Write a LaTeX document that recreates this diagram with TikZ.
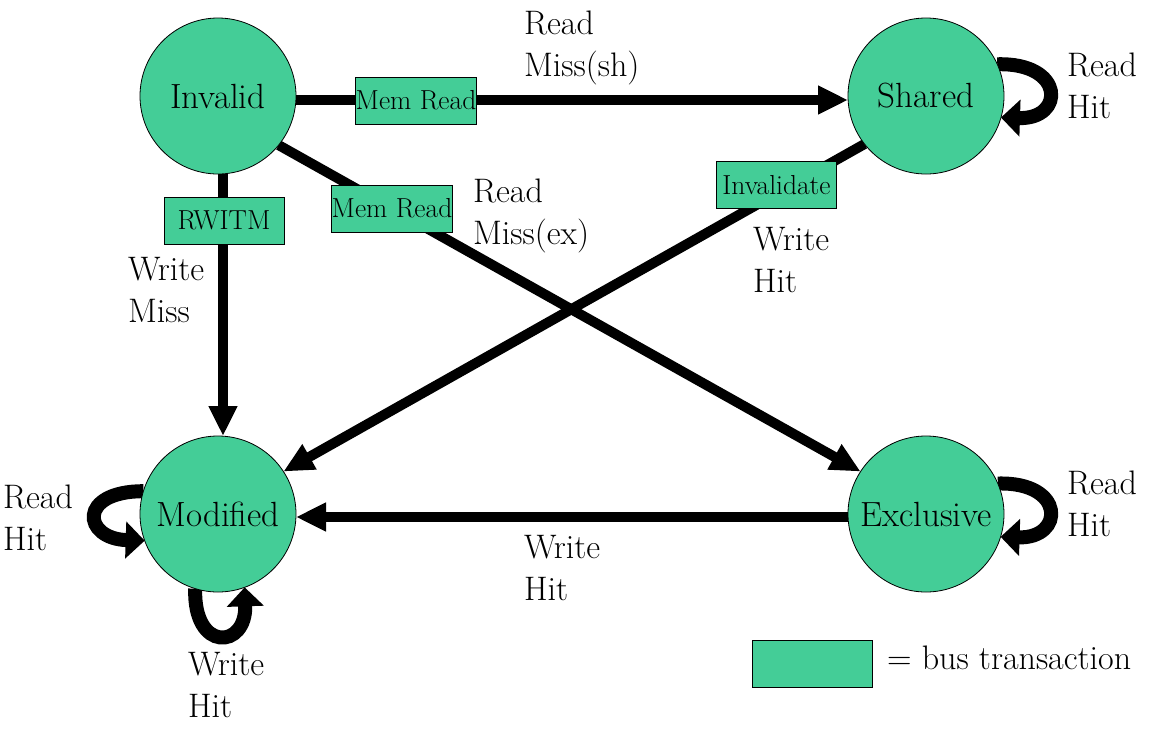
\documentclass[tikz,border=0pt]{standalone}
\usetikzlibrary{arrows.meta}
\definecolor{busgreen}{RGB}{68,205,151}
\pgfdeclarelayer{bg}
\pgfsetlayers{bg,main}
\begin{document}
\begin{tikzpicture}[x=1pt,y=-1pt,
  state/.style={circle,draw=black,line width=0.8pt,fill=busgreen,minimum size=156pt,inner sep=0pt,outer sep=0pt,font=\fontsize{35}{42}\selectfont},
  bus/.style={rectangle,draw=black,line width=0.8pt,fill=busgreen,minimum width=120pt,minimum height=47pt,inner sep=0pt,outer sep=0pt,font=\fontsize{27.5}{32}\selectfont},
  lbl/.style={anchor=base west,inner sep=0pt,outer sep=0pt,font=\fontsize{34}{42}\selectfont},
  trans/.style={line width=10pt,-{Triangle[length=30pt,width=27pt]}},
  selfloop/.style={line width=14pt,-{Triangle[length=19pt,width=36pt]}}]
\useasboundingbox (0,0) rectangle (1149,732);

% states
\node[state] (Invalid) at (218,96) {Invalid};
\node[state] (Shared) at (926,96) {Shared};
\node[state] (Modified) at (218,514) {Modified};
\node[state] (Exclusive) at (926,514) {Exclusive};

% connectors (behind)
\begin{pgfonlayer}{bg}
\draw[trans] ([yshift=-4pt]Invalid.east) -- ([yshift=-4pt]Shared.west);
\draw[trans] (Invalid.-39) -- (Exclusive.147);
\draw[trans] (Shared.218) -- (Modified.33);
\draw[trans] ([xshift=5pt]Invalid.south) -- ([xshift=5pt]Modified.north);
\draw[trans] ([yshift=-3pt]Exclusive.west) -- ([yshift=-3pt]Modified.east);
\draw[selfloop] (Shared.24) .. controls +(68,-2) and +(64,2) .. (Shared.-16);
\draw[selfloop] (Exclusive.23) .. controls +(68,-2) and +(64,2) .. (Exclusive.-17);
\draw[selfloop] (Modified.163) .. controls +(-66,0) and +(-62,-2) .. (Modified.200);
\draw[selfloop] (Modified.253) .. controls +(-2,64) and +(2,62) .. (Modified.290);
\end{pgfonlayer}

% bus transactions
\node[bus] (mr1) at (416,100.5) {Mem Read};
\node[bus] (rwitm) at (224,220.5) {RWITM};
\node[bus] (mr2) at (392,208.5) {Mem Read};
\node[bus] (inv) at (776.5,185) {Invalidate};
\node[bus] (legend) at (812.5,664) {};

% labels
\node[lbl] (lRMsh) at (524,34) {\begin{tabular}[t]{@{}l@{}}Read\\Miss(sh)\end{tabular}};
\node[lbl] (lRHs) at (1067,76) {\begin{tabular}[t]{@{}l@{}}Read\\Hit\end{tabular}};
\node[lbl] (lRMex) at (473,202) {\begin{tabular}[t]{@{}l@{}}Read\\Miss(ex)\end{tabular}};
\node[lbl] (lWHs) at (753,250) {\begin{tabular}[t]{@{}l@{}}Write\\Hit\end{tabular}};
\node[lbl] (lWM) at (128,280) {\begin{tabular}[t]{@{}l@{}}Write\\Miss\end{tabular}};
\node[lbl] (lRHm) at (3,508) {\begin{tabular}[t]{@{}l@{}}Read\\Hit\end{tabular}};
\node[lbl] (lRHe) at (1067,494) {\begin{tabular}[t]{@{}l@{}}Read\\Hit\end{tabular}};
\node[lbl] (lWHe) at (524,558) {\begin{tabular}[t]{@{}l@{}}Write\\Hit\end{tabular}};
\node[lbl] (lWHm) at (188,675) {\begin{tabular}[t]{@{}l@{}}Write\\Hit\end{tabular}};
\node[lbl] (legtext) at (887,669) {= bus transaction};
\end{tikzpicture}
\end{document}
